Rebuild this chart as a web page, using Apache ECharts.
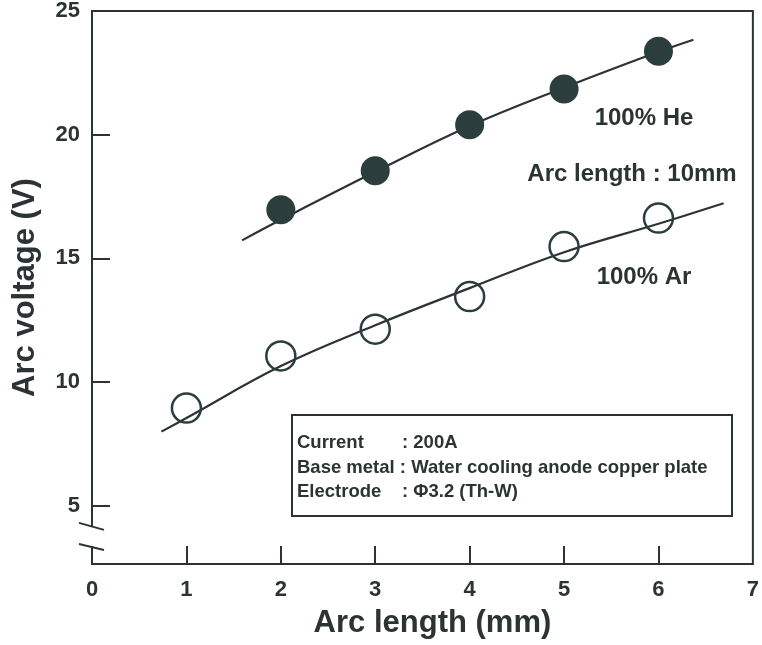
<!DOCTYPE html>
<html>
<head>
<meta charset="utf-8">
<script src="https://cdn.jsdelivr.net/npm/echarts@6/dist/echarts.min.js"></script>
<style>
  html, body { margin: 0; padding: 0; background: #fff; }
  #chart { width: 762px; height: 645px; }
</style>
</head>
<body>
<div id="chart"></div>
<script>
// measured points (arc length mm, arc voltage V)
const heX = [2, 3, 4, 5, 6];
const heV = [16.97, 18.54, 20.40, 21.85, 23.37];
const arX = [1, 2, 3, 4, 5, 6];
const arV = [8.95, 11.06, 12.14, 13.46, 15.48, 16.63];

// fitted curves
const heFitX = [1.59, 2, 3, 4, 5, 6, 6.37];
const heFitV = [15.73, 16.56, 18.5, 20.35, 21.9, 23.35, 23.84];
const arFitX = [0.735, 1, 2, 3, 4, 5, 6, 6.69];
const arFitV = [8.0, 8.55, 10.65, 12.3, 13.8, 15.25, 16.4, 17.23];

// axis ticks
const xLabels = [0, 1, 2, 3, 4, 5, 6, 7];
const xTicks = [1, 2, 3, 4, 5, 6];
const yLabels = [5, 10, 15, 20, 25];
const yTicks = [5, 10, 15, 20];

const ink = '#2b3333';
const markColor = '#2c3d3d';
const font = 'Liberation Sans, Arial, sans-serif';

const pairs = (xs, ys) => xs.map((x, i) => [x, ys[i]]);

const chart = echarts.init(document.getElementById('chart'));

chart.setOption({
  backgroundColor: '#fff',
  animation: false,
  grid: {
    left: 92, right: 4, top: 11, bottom: 81,
    show: true, borderColor: ink, borderWidth: 2
  },
  xAxis: {
    type: 'value', min: 0, max: 7,
    name: 'Arc length (mm)', nameLocation: 'middle', nameGap: 44,
    nameTextStyle: { fontFamily: font, fontWeight: 'bold', fontSize: 31, color: ink,
      padding: [0, 0, 0, 20] },
    axisLine: { show: false },
    splitLine: { show: false },
    axisTick: { show: true, inside: true, length: 18, customValues: xTicks,
      lineStyle: { color: ink, width: 2 } },
    axisLabel: { customValues: xLabels, margin: 15,
      fontFamily: font, fontWeight: 'bold', fontSize: 22, color: ink }
  },
  yAxis: {
    type: 'value', min: 2.65, max: 25,
    name: 'Arc voltage (V)', nameLocation: 'middle', nameGap: 51,
    nameTextStyle: { fontFamily: font, fontWeight: 'bold', fontSize: 31, color: ink },
    axisLine: { show: false },
    splitLine: { show: false },
    axisTick: { show: true, inside: true, length: 18, customValues: yTicks,
      lineStyle: { color: ink, width: 2 } },
    axisLabel: { customValues: yLabels, margin: 12,
      fontFamily: font, fontWeight: 'bold', fontSize: 22, color: ink }
  },
  series: [
    {
      name: 'He fit', type: 'line', data: pairs(heFitX, heFitV),
      smooth: 0.4, showSymbol: false, lineStyle: { color: ink, width: 2.2 }, z: 2
    },
    {
      name: 'Ar fit', type: 'line', data: pairs(arFitX, arFitV),
      smooth: 0.4, showSymbol: false, lineStyle: { color: ink, width: 2.2 }, z: 2
    },
    {
      name: '100% He', type: 'scatter', data: pairs(heX, heV),
      symbol: 'circle', symbolSize: 29,
      itemStyle: { color: markColor, opacity: 1 }, z: 3
    },
    {
      name: '100% Ar', type: 'scatter', data: pairs(arX, arV),
      symbol: 'circle', symbolSize: 29,
      itemStyle: { color: 'rgba(0,0,0,0)', borderColor: markColor, borderWidth: 2.5, opacity: 1 }, z: 3
    }
  ]
});

// axis break marks on the voltage axis
const gapTop = chart.convertToPixel({ gridIndex: 0 }, [0, 4.15]);
const gapBot = chart.convertToPixel({ gridIndex: 0 }, [0, 3.38]);
const ax = gapTop[0];

const boxFont = 'bold 18.5px ' + font;
const capFont = 'bold 24px ' + font;

chart.setOption({
  graphic: [
    { type: 'rect', shape: { x: ax - 4, y: gapTop[1], width: 8, height: gapBot[1] - gapTop[1] },
      style: { fill: '#fff' }, z: 10 },
    { type: 'line', shape: { x1: ax - 13, y1: gapTop[1] - 4, x2: ax + 12, y2: gapTop[1] + 3 },
      style: { stroke: ink, lineWidth: 2 }, z: 11 },
    { type: 'line', shape: { x1: ax - 13, y1: gapBot[1] - 2, x2: ax + 12, y2: gapBot[1] + 4 },
      style: { stroke: ink, lineWidth: 2 }, z: 11 },

    // series captions
    { type: 'text', x: 644, y: 118, style: { text: '100% He', font: capFont,
      fill: ink, align: 'center', verticalAlign: 'middle' }, z: 12 },
    { type: 'text', x: 632, y: 174, style: { text: 'Arc length : 10mm', font: capFont,
      fill: ink, align: 'center', verticalAlign: 'middle' }, z: 12 },
    { type: 'text', x: 644, y: 277, style: { text: '100% Ar', font: capFont,
      fill: ink, align: 'center', verticalAlign: 'middle' }, z: 12 },

    // conditions box
    { type: 'rect', shape: { x: 292, y: 415, width: 440, height: 101 },
      style: { fill: '#fff', stroke: ink, lineWidth: 2 }, z: 12 },
    { type: 'text', x: 297, y: 443, style: { text: 'Current', font: boxFont,
      fill: ink, verticalAlign: 'middle' }, z: 13 },
    { type: 'text', x: 402, y: 443, style: { text: ': 200A', font: boxFont,
      fill: ink, verticalAlign: 'middle' }, z: 13 },
    { type: 'text', x: 297, y: 468, style: { text: 'Base metal : Water cooling anode copper plate',
      font: boxFont, fill: ink, verticalAlign: 'middle' }, z: 13 },
    { type: 'text', x: 297, y: 492, style: { text: 'Electrode', font: boxFont,
      fill: ink, verticalAlign: 'middle' }, z: 13 },
    { type: 'text', x: 402, y: 492, style: { text: ': \u03A63.2 (Th-W)', font: boxFont,
      fill: ink, verticalAlign: 'middle' }, z: 13 }
  ]
});
</script>
</body>
</html>
